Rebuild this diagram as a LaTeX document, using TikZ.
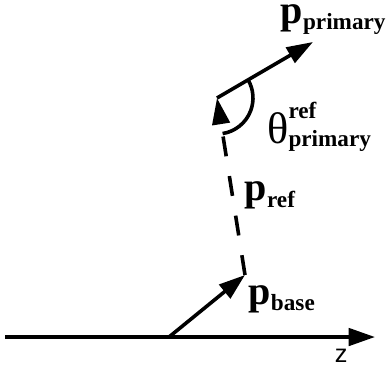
\documentclass[tikz,border=0pt]{standalone}
\usepackage{fontspec}
\setmainfont{Liberation Serif}
\setsansfont{Liberation Sans}
\usetikzlibrary{arrows.meta}

\begin{document}
\begin{tikzpicture}[x=1cm,y=1cm,line width=3.4pt,line join=miter,
  vec/.style={-{Triangle[length=25pt,width=16.5pt]}},
  lbl/.style={inner sep=0pt,anchor=base west,font=\bfseries\fontsize{38}{40}\selectfont}]
\useasboundingbox (0,0) rectangle (13,12.167);
\coordinate (O) at (0.167,0.933); \coordinate (Z) at (12.5,0.933);
\coordinate (B0) at (5.633,0.933); \coordinate (B) at (8.167,3.0);
\coordinate (R) at (7.233,8.9); \coordinate (P) at (10.433,10.767);
\draw[vec] (O)--(Z);
\draw[vec] (B0)--(B);
\draw[vec,dash pattern=on 19pt off 19pt] (B)--(R);
\draw[vec] (R)--(P);
\draw ([shift={(-81:1.2)}]R) arc[start angle=-81,end angle=30,radius=1.2];
\node[lbl] (pprim) at (9.30,11.40) {p\raisebox{-6pt}{\fontsize{22}{24}\selectfont primary}};
\node[lbl] (pref) at (8.10,5.50) {p\raisebox{-7.5pt}{\fontsize{22}{24}\selectfont ref}};
\node[lbl] (pbase) at (8.23,2.03) {p\raisebox{-6pt}{\fontsize{22}{24}\selectfont base}};
\node[lbl,font=\fontsize{42}{44}\selectfont] (theta) at (8.85,7.37) {θ\rlap{\raisebox{24pt}{\bfseries\fontsize{22}{24}\selectfont ref}}\raisebox{-2pt}{\bfseries\fontsize{22}{24}\selectfont primary}};
\node[inner sep=0pt,font=\sffamily\fontsize{24}{24}\selectfont] (zlab) at (11.37,0.3) {z};
\end{tikzpicture}
\end{document}
